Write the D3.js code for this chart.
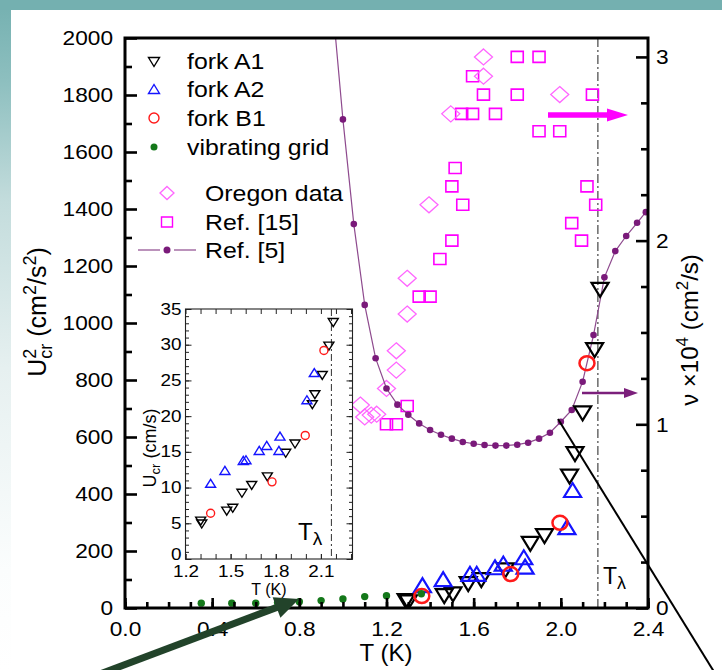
<!DOCTYPE html>
<html>
<head>
<meta charset="utf-8">
<script src="https://cdn.jsdelivr.net/npm/d3@7/dist/d3.min.js"></script>
<style>
  html, body { margin: 0; padding: 0; background: #fff; }
  svg { display: block; }
  text { font-family: "Liberation Sans", Arial, Helvetica, sans-serif; fill: #000; }
</style>
</head>
<body>
<svg id="chart" width="722" height="670"></svg>
<script>
// ---------- data ----------
const T_LAMBDA = 2.17;

// main panel, left axis: U_cr^2 (cm^2/s^2) vs T (K)
const forkA1T  = [1.29, 1.30, 1.465, 1.505, 1.575, 1.635, 1.745, 1.86, 1.925, 2.04, 2.065, 2.10, 2.155, 2.18];
const forkA1U2 = [24, 20, 42, 48, 84, 98, 132, 225, 252, 461, 540, 683, 905, 1116];
const forkA2T  = [1.365, 1.46, 1.583, 1.614, 1.698, 1.736, 1.83, 1.836, 2.028, 2.054];
const forkA2U2 = [80, 101, 120, 120, 143, 156, 178, 145, 284, 414];
const forkB1T  = [1.362, 1.77, 1.996, 2.12];
const forkB1U2 = [42, 119, 299, 859];
const gridT    = [0.35, 0.49, 0.60, 0.70, 0.80, 0.90, 1.00, 1.10, 1.20, 1.36];
const gridU2   = [17, 17, 17, 19, 22, 26, 32, 40, 43, 50];

// main panel, right axis: kinematic viscosity nu x 10^4 (cm^2/s)
const oregonT  = [1.645, 1.645, 1.995, 1.495, 1.395, 1.295, 1.295, 1.245, 1.245, 1.20, 1.08, 1.10, 1.13, 1.155];
const oregonNu = [3.00, 2.895, 2.795, 2.69, 2.195, 1.795, 1.60, 1.40, 1.295, 1.195, 1.105, 1.04, 1.05, 1.055];
const ref15T   = [1.80, 1.90, 1.595, 1.645, 1.80, 2.145, 1.545, 1.595, 1.70, 1.90, 1.995, 1.515, 1.50, 1.55,
                  2.12, 2.16, 2.05, 2.095, 1.50, 1.445, 1.35, 1.40, 1.295, 1.20, 1.245];
const ref15Nu  = [3.00, 3.00, 2.895, 2.795, 2.795, 2.795, 2.69, 2.69, 2.69, 2.595, 2.595, 2.395, 2.295, 2.195,
                  2.295, 2.195, 2.095, 2.00, 2.00, 1.90, 1.695, 1.695, 1.10, 1.00, 1.00];
const ref5T    = [0.95, 1.00, 1.05, 1.10, 1.15, 1.20, 1.25, 1.30, 1.35, 1.40, 1.45, 1.50, 1.55, 1.60, 1.65,
                  1.70, 1.75, 1.80, 1.85, 1.90, 1.95, 2.00, 2.05, 2.10, 2.15, 2.20, 2.25, 2.30, 2.35, 2.39];
const ref5Nu   = [3.32, 2.66, 2.09, 1.65, 1.36, 1.195, 1.107, 1.052, 1.005, 0.969, 0.943, 0.922, 0.904, 0.894, 0.887,
                  0.884, 0.884, 0.889, 0.900, 0.922, 0.954, 1.014, 1.078, 1.232, 1.486, 1.80, 1.943, 2.025, 2.097, 2.155];

// inset: U_cr (cm/s) vs T (K)
const insetA1T = [1.301, 1.308, 1.474, 1.514, 1.575, 1.640, 1.744, 1.866, 1.928, 2.043, 2.060, 2.109, 2.153, 2.182];
const insetA1U = [5.3, 4.9, 6.7, 7.1, 9.2, 10.3, 11.5, 14.8, 16.1, 21.6, 23.0, 25.7, 29.8, 33.1];
const insetA2T = [1.367, 1.462, 1.584, 1.602, 1.690, 1.740, 1.821, 1.828, 2.007, 2.056];
const insetA2U = [10.6, 12.4, 13.8, 13.9, 15.2, 15.9, 15.2, 17.2, 22.3, 26.1];
const insetB1T = [1.367, 1.775, 1.996, 2.120];
const insetB1U = [6.4, 10.8, 17.3, 29.2];

// tick labels
const mainXTicks  = [0.0, 0.4, 0.8, 1.2, 1.6, 2.0, 2.4];
const leftTicks   = [0, 200, 400, 600, 800, 1000, 1200, 1400, 1600, 1800, 2000];
const rightTicks  = [0, 1, 2, 3];
const insetXTicks = [1.2, 1.5, 1.8, 2.1];
const insetYTicks = [0, 5, 10, 15, 20, 25, 30, 35];

// ---------- colours ----------
const C = {
  a1: "#000000", a2: "#1414ff", b1: "#ff1a1a", grid: "#14781a",
  oregon: "#ff66ff", ref15: "#ff00ff", ref5: "#7a1a7a", ref5Line: "#8e4a8e"
};

const zip = (a, b) => a.map((v, i) => [v, b[i]]);

// ---------- marker paths ----------
const triDown = (w, h) => `M${-w/2},${-h/2}L${w/2},${-h/2}L0,${h/2}Z`;
const triUp   = (w, h) => `M${-w/2},${h/2}L${w/2},${h/2}L0,${-h/2}Z`;
const diamond = (w, h) => `M0,${-h/2}L${w/2},0L0,${h/2}L${-w/2},0Z`;
const square  = (w, h) => `M${-w/2},${-h/2}H${w/2}V${h/2}H${-w/2}Z`;

const svg = d3.select("#chart");
const defs = svg.append("defs");

// ---------- slide background ----------
const grad = defs.append("linearGradient").attr("id", "edgeGrad")
  .attr("x1", 0).attr("y1", 0).attr("x2", 0).attr("y2", 1);
[[0, "#74b0b0"], [0.12, "#8dbfbf"], [0.3, "#c3dcdc"], [0.55, "#e6f0f0"], [0.85, "#fbfdfd"], [1, "#ffffff"]]
  .forEach(([o, c]) => grad.append("stop").attr("offset", o).attr("stop-color", c));
svg.append("rect").attr("width", 722).attr("height", 670).attr("fill", "#fff");
svg.append("rect").attr("x", 0).attr("y", 0).attr("width", 11).attr("height", 670).attr("fill", "url(#edgeGrad)");
svg.append("rect").attr("x", 0).attr("y", 0).attr("width", 722).attr("height", 10).attr("fill", "#74b0b0");

// ---------- main scales ----------
const M = { l: 125, r: 648, t: 38, b: 608 };
const x  = d3.scaleLinear([0, 2.4], [M.l, M.r]);
const yL = d3.scaleLinear([0, 2000], [M.b, M.t]);
const yR = d3.scaleLinear([0, 3.103], [M.b, M.t]);

defs.append("clipPath").attr("id", "plotClip").append("rect")
  .attr("x", M.l).attr("y", M.t).attr("width", M.r - M.l).attr("height", M.b - M.t);

const plot = svg.append("g").attr("clip-path", "url(#plotClip)");

// T-lambda line
plot.append("line")
  .attr("x1", x(T_LAMBDA)).attr("x2", x(T_LAMBDA)).attr("y1", M.t).attr("y2", M.b)
  .attr("stroke", "#444").attr("stroke-width", 1.2).attr("stroke-dasharray", "9,3,2,3");

// Ref. [15] squares
plot.append("g").selectAll("path").data(zip(ref15T, ref15Nu)).join("path")
  .attr("transform", d => `translate(${x(d[0])},${yR(d[1])})`)
  .attr("d", square(12, 11)).attr("fill", "none").attr("stroke", C.ref15).attr("stroke-width", 1.6);

// Oregon diamonds
plot.append("g").selectAll("path").data(zip(oregonT, oregonNu)).join("path")
  .attr("transform", d => `translate(${x(d[0])},${yR(d[1])})`)
  .attr("d", diamond(18, 16)).attr("fill", "none").attr("stroke", C.oregon).attr("stroke-width", 1.3);

// Ref. [5] viscosity curve
plot.append("path").datum(zip(ref5T, ref5Nu))
  .attr("d", d3.line().x(d => x(d[0])).y(d => yR(d[1])))
  .attr("fill", "none").attr("stroke", C.ref5Line).attr("stroke-width", 1.2);
plot.append("g").selectAll("circle").data(zip(ref5T, ref5Nu)).join("circle")
  .attr("cx", d => x(d[0])).attr("cy", d => yR(d[1])).attr("r", 3.3).attr("fill", C.ref5);

// forks
plot.append("g").selectAll("path").data(zip(forkA1T, forkA1U2)).join("path")
  .attr("transform", d => `translate(${x(d[0])},${yL(d[1])})`)
  .attr("d", triDown(17, 14)).attr("fill", "none").attr("stroke", C.a1).attr("stroke-width", 2.2);
plot.append("g").selectAll("path").data(zip(forkA2T, forkA2U2)).join("path")
  .attr("transform", d => `translate(${x(d[0])},${yL(d[1])})`)
  .attr("d", triUp(17, 14)).attr("fill", "none").attr("stroke", C.a2).attr("stroke-width", 2.2);
plot.append("g").selectAll("ellipse").data(zip(forkB1T, forkB1U2)).join("ellipse")
  .attr("cx", d => x(d[0])).attr("cy", d => yL(d[1])).attr("rx", 7.5).attr("ry", 7)
  .attr("fill", "none").attr("stroke", C.b1).attr("stroke-width", 2.5);
plot.append("g").selectAll("circle").data(zip(gridT, gridU2)).join("circle")
  .attr("cx", d => x(d[0])).attr("cy", d => yL(d[1])).attr("r", 3.7).attr("fill", C.grid);

// ---------- main frame and axes ----------
svg.append("rect").attr("x", M.l).attr("y", M.t).attr("width", M.r - M.l).attr("height", M.b - M.t)
  .attr("fill", "none").attr("stroke", "#000").attr("stroke-width", 3);

function styleAxis(g, sx, size, color, width) {
  g.select(".domain").remove();
  g.selectAll("line").attr("stroke", color || "#000").attr("stroke-width", width || 2.6);
  g.selectAll("text").attr("font-size", size).attr("fill", "#000")
    .attr("font-family", '"Liberation Sans", Arial, sans-serif');
  if (sx) {
    g.selectAll("text").each(function () {
      const t = d3.select(this);
      const xx = +t.attr("x") || 0;
      t.attr("x", xx / sx).attr("transform", `scale(${sx},1)`);
    });
  }
}

const SX = 1.08, FS = 21;
// bottom
svg.append("g").attr("transform", `translate(0,${M.b})`)
  .call(d3.axisBottom(x).tickValues(d3.range(0, 2.41, 0.1)).tickSize(-6).tickFormat(""))
  .call(g => styleAxis(g));
svg.append("g").attr("transform", `translate(0,${M.b})`)
  .call(d3.axisBottom(x).tickValues(mainXTicks).tickSize(-10).tickPadding(13).tickFormat(d3.format(".1f")))
  .call(g => styleAxis(g, SX, FS));
// left
svg.append("g").attr("transform", `translate(${M.l},0)`)
  .call(d3.axisLeft(yL).tickValues(d3.range(100, 2000, 200)).tickSize(-7).tickFormat(""))
  .call(g => styleAxis(g));
svg.append("g").attr("transform", `translate(${M.l},0)`)
  .call(d3.axisLeft(yL).tickValues(leftTicks).tickSize(-12).tickPadding(12).tickFormat(d3.format("d")))
  .call(g => styleAxis(g, SX, FS));
// right
svg.append("g").attr("transform", `translate(${M.r},0)`)
  .call(d3.axisRight(yR).tickValues([0.25, 0.5, 0.75, 1.25, 1.5, 1.75, 2.25, 2.5, 2.75]).tickSize(-7).tickFormat(""))
  .call(g => styleAxis(g));
svg.append("g").attr("transform", `translate(${M.r},0)`)
  .call(d3.axisRight(yR).tickValues(rightTicks).tickSize(-12).tickPadding(8).tickFormat(d3.format("d")))
  .call(g => styleAxis(g, SX, FS));

// axis titles
svg.append("text").attr("x", 386).attr("y", 661).attr("text-anchor", "middle")
  .attr("font-size", 24).text("T (K)");

const leftTitle = svg.append("text").attr("transform", "translate(46,312) rotate(-90)")
  .attr("text-anchor", "middle").attr("font-size", 25);
leftTitle.append("tspan").text("U");
leftTitle.append("tspan").attr("font-size", 18).attr("dy", -10).text("2");
leftTitle.append("tspan").attr("font-size", 18).attr("dx", -10).attr("dy", 16).text("cr");
leftTitle.append("tspan").attr("dy", -6).text(" (cm");
leftTitle.append("tspan").attr("font-size", 18).attr("dy", -10).text("2");
leftTitle.append("tspan").attr("dy", 10).text("/s");
leftTitle.append("tspan").attr("font-size", 18).attr("dy", -10).text("2");
leftTitle.append("tspan").attr("dy", 10).text(")");

const rightTitle = svg.append("text").attr("transform", "translate(698,330) rotate(-90)")
  .attr("text-anchor", "middle").attr("font-size", 24);
rightTitle.append("tspan").text("\u03BD \u00D710");
rightTitle.append("tspan").attr("font-size", 17).attr("dy", -10).text("4");
rightTitle.append("tspan").attr("dy", 10).text("  (cm");
rightTitle.append("tspan").attr("font-size", 17).attr("dy", -10).text("2");
rightTitle.append("tspan").attr("dy", 10).text("/s)");

// T-lambda label
const tl = svg.append("text").attr("x", 603).attr("y", 584).attr("font-size", 23);
tl.append("tspan").text("T");
tl.append("tspan").attr("font-size", 18).attr("dy", 5).text("\u03BB");

// ---------- legend ----------
const legFS = 22, legSX = 1.13;
function legText(xp, yp, str) {
  svg.append("text").attr("transform", `translate(${xp},${yp}) scale(${legSX},1)`)
    .attr("font-size", legFS).text(str);
}
const lg = svg.append("g");
lg.append("path").attr("transform", "translate(154,62)").attr("d", triDown(11, 9))
  .attr("fill", "none").attr("stroke", C.a1).attr("stroke-width", 1.4);
lg.append("path").attr("transform", "translate(154,89)").attr("d", triUp(11, 9))
  .attr("fill", "none").attr("stroke", C.a2).attr("stroke-width", 1.4);
lg.append("circle").attr("cx", 154).attr("cy", 118).attr("r", 5)
  .attr("fill", "none").attr("stroke", C.b1).attr("stroke-width", 1.4);
lg.append("circle").attr("cx", 154).attr("cy", 147).attr("r", 3.5).attr("fill", C.grid);
lg.append("path").attr("transform", "translate(167,193)").attr("d", diamond(14, 13))
  .attr("fill", "none").attr("stroke", C.oregon).attr("stroke-width", 1.3);
lg.append("path").attr("transform", "translate(167,222)").attr("d", square(11, 10))
  .attr("fill", "none").attr("stroke", C.ref15).attr("stroke-width", 1.4);
lg.append("line").attr("x1", 138).attr("x2", 160).attr("y1", 250).attr("y2", 250)
  .attr("stroke", C.ref5Line).attr("stroke-width", 1.2);
lg.append("line").attr("x1", 174).attr("x2", 196).attr("y1", 250).attr("y2", 250)
  .attr("stroke", C.ref5Line).attr("stroke-width", 1.2);
lg.append("circle").attr("cx", 167).attr("cy", 250).attr("r", 3.5).attr("fill", C.ref5);
legText(187, 69, "fork A1");
legText(187, 97, "fork A2");
legText(187, 126, "fork B1");
legText(187, 155, "vibrating grid");
legText(205, 201, "Oregon data");
legText(205, 230, "Ref. [15]");
legText(205, 258, "Ref. [5]");

// ---------- inset ----------
const I = { l: 185.5, r: 352.5, t: 309, b: 559 };
const xi = d3.scaleLinear([1.2, 2.31], [I.l, I.r]);
const yi = d3.scaleLinear([0, 35], [I.b, I.t]);

svg.append("rect").attr("x", I.l).attr("y", I.t).attr("width", I.r - I.l).attr("height", I.b - I.t)
  .attr("fill", "#fff");

const inset = svg.append("g");
inset.append("line").attr("x1", xi(T_LAMBDA)).attr("x2", xi(T_LAMBDA)).attr("y1", I.t).attr("y2", I.b)
  .attr("stroke", "#444").attr("stroke-width", 1.1).attr("stroke-dasharray", "7,3,2,3");

inset.append("g").selectAll("path").data(zip(insetA1T, insetA1U)).join("path")
  .attr("transform", d => `translate(${xi(d[0])},${yi(d[1])})`)
  .attr("d", triDown(10, 8)).attr("fill", "none").attr("stroke", C.a1).attr("stroke-width", 1.4);
inset.append("g").selectAll("path").data(zip(insetA2T, insetA2U)).join("path")
  .attr("transform", d => `translate(${xi(d[0])},${yi(d[1])})`)
  .attr("d", triUp(10, 8)).attr("fill", "none").attr("stroke", C.a2).attr("stroke-width", 1.4);
inset.append("g").selectAll("circle").data(zip(insetB1T, insetB1U)).join("circle")
  .attr("cx", d => xi(d[0])).attr("cy", d => yi(d[1])).attr("r", 4)
  .attr("fill", "none").attr("stroke", C.b1).attr("stroke-width", 1.4);

inset.append("rect").attr("x", I.l).attr("y", I.t).attr("width", I.r - I.l).attr("height", I.b - I.t)
  .attr("fill", "none").attr("stroke", "#222").attr("stroke-width", 1.1);

const ISX = 1.18, IFS = 16;
const xiMinor = d3.range(1.2, 2.31, 0.1);
const yiMinor = d3.range(0, 35.5, 1);
// bottom / top
svg.append("g").attr("transform", `translate(0,${I.b})`)
  .call(d3.axisBottom(xi).tickValues(xiMinor).tickSize(-5).tickFormat(""))
  .call(g => styleAxis(g, null, null, "#222", 1));
svg.append("g").attr("transform", `translate(0,${I.b})`)
  .call(d3.axisBottom(xi).tickValues(insetXTicks).tickSize(-5).tickPadding(7).tickFormat(d3.format(".1f")))
  .call(g => styleAxis(g, ISX, IFS, "#222", 1));
svg.append("g").attr("transform", `translate(0,${I.t})`)
  .call(d3.axisTop(xi).tickValues(xiMinor).tickSize(-5).tickFormat(""))
  .call(g => styleAxis(g, null, null, "#222", 1));
// left / right
svg.append("g").attr("transform", `translate(${I.l},0)`)
  .call(d3.axisLeft(yi).tickValues(yiMinor).tickSize(-3.5).tickFormat(""))
  .call(g => styleAxis(g, null, null, "#222", 1));
svg.append("g").attr("transform", `translate(${I.l},0)`)
  .call(d3.axisLeft(yi).tickValues(insetYTicks).tickSize(-6).tickPadding(4).tickFormat(d3.format("d")))
  .call(g => styleAxis(g, ISX, IFS, "#222", 1))
  .call(g => g.selectAll("text").filter(d => d === 0).attr("dy", "0em"));
svg.append("g").attr("transform", `translate(${I.r},0)`)
  .call(d3.axisRight(yi).tickValues(yiMinor).tickSize(-3.5).tickFormat(""))
  .call(g => styleAxis(g, null, null, "#222", 1));
svg.append("g").attr("transform", `translate(${I.r},0)`)
  .call(d3.axisRight(yi).tickValues(insetYTicks).tickSize(-6).tickFormat(""))
  .call(g => styleAxis(g, null, null, "#222", 1));

svg.append("text").attr("x", 269).attr("y", 595).attr("text-anchor", "middle")
  .attr("font-size", 16).text("T (K)");
const iyTitle = svg.append("text").attr("transform", "translate(156,448) rotate(-90)")
  .attr("text-anchor", "middle").attr("font-size", 18);
iyTitle.append("tspan").text("U");
iyTitle.append("tspan").attr("font-size", 13).attr("dy", 4).text("cr");
iyTitle.append("tspan").attr("dy", -4).text(" (cm/s)");

const itl = svg.append("text").attr("x", 298).attr("y", 540).attr("font-size", 24);
itl.append("tspan").text("T");
itl.append("tspan").attr("font-size", 19).attr("dy", 5).text("\u03BB");

// ---------- annotation arrows ----------
function arrow(x1, y1, x2, y2, color, width, headLen, headHalf) {
  const dx = x2 - x1, dy = y2 - y1, L = Math.hypot(dx, dy);
  const ux = dx / L, uy = dy / L, px = -uy, py = ux;
  const bx = x2 - ux * headLen, by = y2 - uy * headLen;
  svg.append("line").attr("x1", x1).attr("y1", y1).attr("x2", bx + ux).attr("y2", by + uy)
    .attr("stroke", color).attr("stroke-width", width);
  svg.append("path")
    .attr("d", `M${x2},${y2}L${bx + px * headHalf},${by + py * headHalf}L${bx - px * headHalf},${by - py * headHalf}Z`)
    .attr("fill", color);
}
arrow(548, 115, 628, 115, "#ff00ff", 5.5, 21, 6.5);
arrow(582, 393, 638, 393, "#7b1f7b", 2.5, 14, 5);
arrow(100, 674, 299, 599, "#22432a", 7, 24, 11);

// guide line towards the lambda transition
svg.append("line").attr("x1", 558).attr("y1", 419).attr("x2", 716).attr("y2", 675)
  .attr("stroke", "#000").attr("stroke-width", 2);
</script>
</body>
</html>
